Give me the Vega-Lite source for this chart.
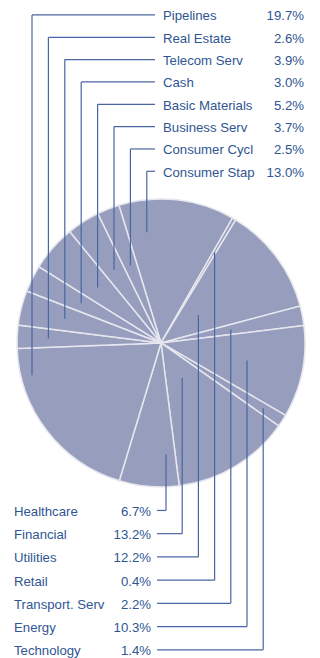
{
  "$schema": "https://vega.github.io/schema/vega-lite/v6.json",
  "width": 320,
  "height": 658,
  "autosize": {"type": "fit", "contains": "padding"},
  "padding": 0,
  "background": "white",
  "config": {"view": {"stroke": null}, "font": "Liberation Sans"},
  "data": {
    "values": [
      {"ord": 0, "sector": "Consumer Stap", "pct": 13.0, "side": "top", "rank": 7},
      {"ord": 1, "sector": "Retail", "pct": 0.4, "side": "bottom", "rank": 3},
      {"ord": 2, "sector": "Utilities", "pct": 12.2, "side": "bottom", "rank": 2},
      {"ord": 3, "sector": "Transport. Serv", "pct": 2.2, "side": "bottom", "rank": 4},
      {"ord": 4, "sector": "Energy", "pct": 10.3, "side": "bottom", "rank": 5},
      {"ord": 5, "sector": "Technology", "pct": 1.4, "side": "bottom", "rank": 6},
      {"ord": 6, "sector": "Financial", "pct": 13.2, "side": "bottom", "rank": 1},
      {"ord": 7, "sector": "Healthcare", "pct": 6.7, "side": "bottom", "rank": 0},
      {"ord": 8, "sector": "Pipelines", "pct": 19.7, "side": "top", "rank": 0},
      {"ord": 9, "sector": "Real Estate", "pct": 2.6, "side": "top", "rank": 1},
      {"ord": 10, "sector": "Telecom Serv", "pct": 3.9, "side": "top", "rank": 2},
      {"ord": 11, "sector": "Cash", "pct": 3.0, "side": "top", "rank": 3},
      {"ord": 12, "sector": "Basic Materials", "pct": 5.2, "side": "top", "rank": 4},
      {"ord": 13, "sector": "Business Serv", "pct": 3.7, "side": "top", "rank": 5},
      {"ord": 14, "sector": "Consumer Cycl", "pct": 2.5, "side": "top", "rank": 6}
    ]
  },
  "transform": [
    {"window": [{"op": "sum", "field": "pct", "as": "cum"}], "sort": [{"field": "ord"}], "frame": [null, 0]},
    {"joinaggregate": [{"op": "sum", "field": "pct", "as": "total"}]},
    {"calculate": "-0.2967 + 2*PI*(datum.cum - datum.pct/2)/datum.total", "as": "mid"},
    {"calculate": "datum.side=='top' ? -129 + 16.4*datum.rank : 5 + 16.2*datum.rank", "as": "lx"},
    {"calculate": "datum.side=='top' ? -329 + 22.4*datum.rank : 168 + 23.3*datum.rank", "as": "ly"},
    {"calculate": "datum.lx / sin(datum.mid)", "as": "t"},
    {"calculate": "(datum.t > 0 && datum.t < 132) ? -datum.t*cos(datum.mid) : (cos(datum.mid) > 0 ? -1 : 1) * sqrt(max(pow(max(112, abs(datum.lx)+4), 2) - datum.lx*datum.lx, 0))", "as": "ay"},
    {"calculate": "datum.side=='top' ? -6 : -4", "as": "hx"},
    {"calculate": "datum.side=='top' ? 2 : -147", "as": "nx"},
    {"calculate": "datum.side=='top' ? 143 : -10", "as": "vx"},
    {"calculate": "format(datum.pct, '.1f') + '%'", "as": "pl"}
  ],
  "layer": [
    {
      "mark": {"type": "arc", "outerRadius": 144, "fill": "#969dbd", "stroke": "#e6e6ee", "strokeWidth": 1.5},
      "encoding": {
        "theta": {"field": "pct", "type": "quantitative", "stack": true, "scale": {"range": [-0.2967, 5.9865]}},
        "order": {"field": "ord", "type": "quantitative"},
        "x": {"datum": 0, "type": "quantitative", "scale": {"domain": [-161, 159], "nice": false, "zero": false}, "axis": null},
        "y": {"datum": 0, "type": "quantitative", "scale": {"domain": [-344, 314], "nice": false, "zero": false, "reverse": true}, "axis": null}
      }
    },
    {
      "mark": {"type": "rule", "color": "#4a66a0", "strokeWidth": 1.2},
      "encoding": {
        "x": {"field": "hx", "type": "quantitative", "scale": {"domain": [-161, 159], "nice": false, "zero": false}, "axis": null},
        "x2": {"field": "lx"},
        "y": {"field": "ly", "type": "quantitative", "scale": {"domain": [-344, 314], "nice": false, "zero": false, "reverse": true}, "axis": null}
      }
    },
    {
      "mark": {"type": "rule", "color": "#4a66a0", "strokeWidth": 1.2},
      "encoding": {
        "x": {"field": "lx", "type": "quantitative", "axis": null},
        "y": {"field": "ly", "type": "quantitative", "axis": null},
        "y2": {"field": "ay"}
      }
    },
    {
      "mark": {"type": "text", "align": "left", "baseline": "middle", "fontSize": 13.2, "color": "#2f5593", "dy": 1.5},
      "encoding": {
        "x": {"field": "nx", "type": "quantitative", "axis": null},
        "y": {"field": "ly", "type": "quantitative", "axis": null},
        "text": {"field": "sector"}
      }
    },
    {
      "mark": {"type": "text", "align": "right", "baseline": "middle", "fontSize": 13.2, "color": "#2f5593", "dy": 1.5},
      "encoding": {
        "x": {"field": "vx", "type": "quantitative", "axis": null},
        "y": {"field": "ly", "type": "quantitative", "axis": null},
        "text": {"field": "pl"}
      }
    }
  ]
}
